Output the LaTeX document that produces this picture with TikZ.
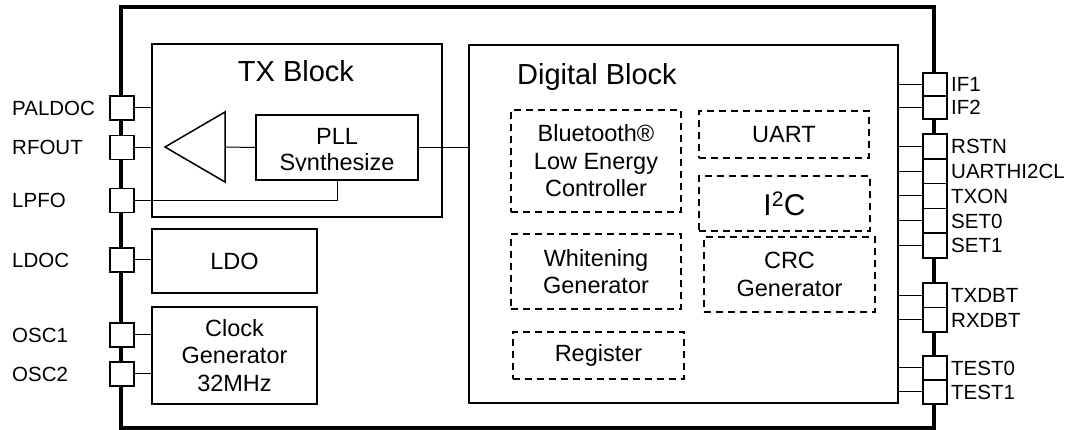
\documentclass[tikz,border=0pt]{standalone}
\usepackage{fontspec}
\setmainfont{Liberation Sans}
\begin{document}
\begin{tikzpicture}[x=1pt,y=-1pt,
  chip/.style={line width=3.2pt},
  blk/.style={draw, line width=1.5pt, inner sep=0pt, align=center, font=\fontsize{23.5}{27.5}\selectfont},
  dblk/.style={draw, dash pattern=on 7pt off 5pt, line width=1.5pt, inner sep=0pt, align=center, font=\fontsize{23.5}{27.5}\selectfont},
  pinbox/.style={draw, fill=white, line width=1.5pt, minimum width=24pt, inner sep=0pt},
  pinlbl/.style={font=\fontsize{20.5}{24}\selectfont, inner sep=0pt, anchor=base west},
  wire/.style={line width=1pt},
  title/.style={font=\fontsize{29}{34}\selectfont, inner sep=0pt, anchor=base}
]
\useasboundingbox (0,0) rectangle (1069,430);
% chip outline
\draw[chip] (121,7) rectangle (934,428);

% blocks
\node[blk, minimum width=290pt, minimum height=173pt] (tx) at (297,130.5) {};
\node[title] (txt) at (296,82) {TX Block};
\node[blk, line width=1.2pt, minimum width=162pt, minimum height=65pt] (pll) at (337,147.5) {};
\begin{scope}
\clip (256,115) rectangle (418,170.5);
\node[align=center, inner sep=0pt, font=\fontsize{23.5}{25.5}\selectfont] (plltxt) at (337,152) {PLL\\Synthesize};
\end{scope}
\draw[line width=1.5pt] (165,147) -- (225,112) -- (225,182) -- cycle;
\coordinate (amp) at (225,147);

\node[blk, minimum width=165pt, minimum height=64pt] (ldo) at (234.5,261) {LDO};
\node[blk, minimum width=165pt, minimum height=97pt] (clk) at (234.5,355.5) {Clock\\Generator\\32MHz};

\node[blk, minimum width=429pt, minimum height=358pt] (dig) at (683.5,224) {};
\node[title] (dgt) at (597,84.5) {Digital Block};

\node[dblk, minimum width=170pt, minimum height=102pt] (ble) at (596,161) {Bluetooth®\\Low Energy\\Controller};
\node[dblk, minimum width=170pt, minimum height=47pt] (uart) at (784,134.5) {UART};
\node[dblk, minimum width=171pt, minimum height=55pt, font=\fontsize{30}{34}\selectfont] (iic) at (784.5,203.5) {I\textsuperscript{2}C};
\node[dblk, minimum width=170pt, minimum height=75pt] (wht) at (596,271.5) {Whitening\\Generator};
\node[dblk, minimum width=171pt, minimum height=75pt] (crc) at (789.5,274.5) {CRC\\Generator};
\node[dblk, minimum width=171pt, minimum height=47pt] (reg) at (598.5,355.5) {Register};

% left pins
\foreach \n/\y/\t in {lp1/108/PALDOC, lp2/147.5/RFOUT, lp3/200.5/LPFO, lp4/260/LDOC, lp5/335/OSC1, lp6/374/OSC2}{
  \node[pinbox, minimum height=24pt] (\n) at (122,\y) {};
  \node[pinlbl] (\n t) at (12,\y+7.3) {\t};
}
% right pins
\foreach \n/\y/\h/\t in {rp1/84.5/23/IF1, rp2/107.5/23/IF2,
  rp3/146.4/24.8/RSTN, rp4/171.2/24.8/UARTHI2CL, rp5/196/24.8/TXON, rp6/220.8/24.8/SET0, rp7/245.6/24.8/SET1,
  rp8/295.25/24.5/TXDBT, rp9/319.75/24.5/RXDBT, rp10/368/24/TEST0, rp11/392/24/TEST1}{
  \node[pinbox, minimum height=\h pt] (\n) at (935,\y) {};
  \node[pinlbl] (\n t) at (951,\y+7.3) {\t};
}

% wires
\draw[wire] (lp1.east) -- (lp1.east -| tx.west);
\draw[wire] (lp2.east) -- (lp2.east -| tx.west);
\draw[wire] (lp3.east) -| (pll.south);
\draw[wire] (lp4.east) -- (lp4.east -| ldo.west);
\draw[wire] (lp5.east) -- (lp5.east -| clk.west);
\draw[wire] (lp6.east) -- (lp6.east -| clk.west);
\draw[wire] (amp) -- (pll.west);
\draw[wire] (pll.east) -- (pll.east -| dig.west);
\foreach \n in {rp1,rp2,rp3,rp4,rp5,rp6,rp7,rp8,rp9,rp10,rp11}{
  \draw[wire] (\n.west -| dig.east) -- (\n.west);
}
\end{tikzpicture}
\end{document}
